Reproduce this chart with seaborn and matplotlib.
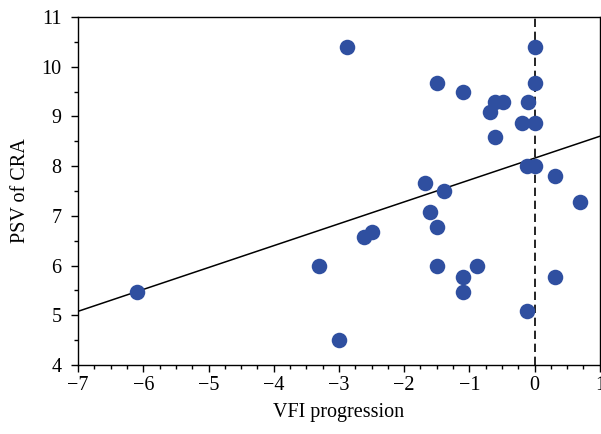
import numpy as np
import pandas as pd
import matplotlib
matplotlib.use("Agg")
import matplotlib.pyplot as plt
from matplotlib.ticker import MultipleLocator
import seaborn as sns

# values
vfi_progression = [-6.1, -3.3, -3.0, -2.88, -2.61, -2.49, -1.68, -1.61, -1.49, -1.39,
                   -1.49, -1.1, -1.1, -0.89, -1.49, -1.1, -0.69, -0.61, -0.49, -0.61,
                   -0.1, -0.19, 0.0, 0.0, 0.0, -0.11, 0.01, 0.31, 0.69, 0.31, -0.11]
psv_cra = [5.47, 5.99, 4.5, 10.4, 6.57, 6.68, 7.67, 7.08, 6.78, 7.49,
           5.99, 5.76, 5.47, 5.99, 9.68, 9.49, 9.09, 9.28, 9.28, 8.58,
           9.28, 8.87, 8.87, 10.4, 9.68, 8.0, 8.0, 7.8, 7.28, 5.76, 5.08]
fit_intercept = 8.16
fit_slope = 0.44

df = pd.DataFrame({"VFI progression": vfi_progression, "PSV of CRA": psv_cra})

sns.set_theme(style="ticks")
plt.rcParams["font.family"] = ["Liberation Serif", "DejaVu Serif"]

fig = plt.figure(figsize=(6.01, 4.34), dpi=100)
ax = fig.add_axes([0.130, 0.159, 0.868, 0.802])

ax.axvline(0, color="black", lw=1.2, ls=(0, (5, 2.8)), zorder=1)
ax.axline((0, fit_intercept), slope=fit_slope, color="black", lw=1.1, zorder=1)
sns.scatterplot(data=df, x="VFI progression", y="PSV of CRA", ax=ax,
                color="#2F4FA0", s=125, linewidth=0, zorder=3)

ax.set_xlim(-7, 1)
ax.set_ylim(4, 11)
ax.xaxis.set_major_locator(MultipleLocator(1))
ax.xaxis.set_minor_locator(MultipleLocator(0.25))
ax.yaxis.set_major_locator(MultipleLocator(1))
ax.yaxis.set_minor_locator(MultipleLocator(0.5))
ax.tick_params(which="major", direction="out", length=5, width=1, colors="black",
               labelsize=14.5)
ax.tick_params(which="minor", direction="out", length=3.2, width=1, colors="black")
ax.tick_params(axis="y", which="major", pad=7)
ax.tick_params(axis="x", which="major", pad=3)
for sp in ax.spines.values():
    sp.set_color("black")
    sp.set_linewidth(1)
ax.set_xlabel("VFI progression", fontsize=14.5, color="black", labelpad=6)
ax.set_ylabel("PSV of CRA", fontsize=14.5, color="black", labelpad=8)

fig.savefig("out.png", dpi=100)
